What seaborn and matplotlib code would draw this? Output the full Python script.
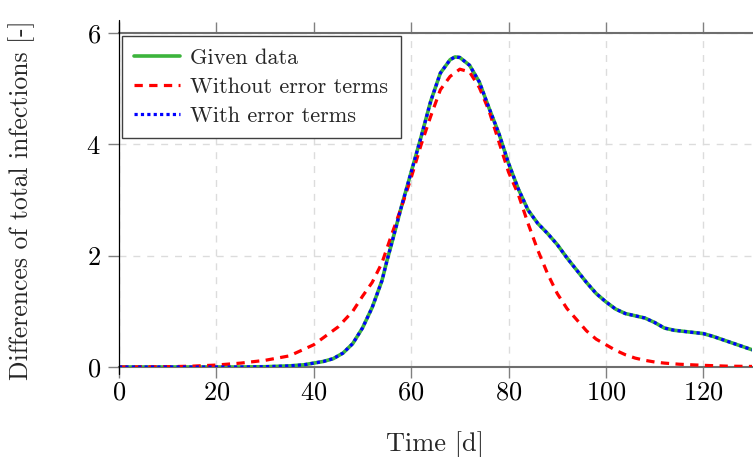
import numpy as np
import pandas as pd
import matplotlib
matplotlib.use("Agg")
import matplotlib.pyplot as plt
import seaborn as sns

# ---- data ----
t_given = [0, 5, 10, 15, 20, 25, 30, 35, 38, 40, 42, 44, 46, 48, 50, 52, 54, 55, 56, 58,
           60, 62, 64, 66, 68, 69, 70, 72, 74, 76, 78, 80, 82, 84, 86, 88, 90, 92, 94,
           96, 98, 100, 102, 104, 106, 108, 110, 112, 114, 116, 118, 120, 122, 124,
           126, 128, 130]
v_given = [0, 0, 0, 0, 0, 0, 0.005, 0.02, 0.04, 0.07, 0.1, 0.15, 0.25, 0.42, 0.7, 1.07,
           1.55, 1.9, 2.22, 2.88, 3.5, 4.12, 4.77, 5.28, 5.52, 5.57, 5.56, 5.42, 5.12,
           4.65, 4.2, 3.66, 3.2, 2.82, 2.58, 2.4, 2.2, 1.96, 1.74, 1.52, 1.32, 1.17,
           1.04, 0.96, 0.92, 0.88, 0.8, 0.7, 0.66, 0.64, 0.62, 0.6, 0.55, 0.49, 0.43,
           0.37, 0.31]
v_with = list(v_given)

t_without = [0, 5, 10, 15, 20, 25, 30, 35, 40, 45, 48, 50, 52, 54, 56, 58, 60, 62, 64,
             66, 68, 70, 72, 74, 76, 78, 80, 82, 84, 86, 88, 90, 92, 94, 96, 98, 100,
             102, 104, 106, 108, 110, 112, 115, 120, 125, 130]
v_without = [0, 0.002, 0.005, 0.015, 0.035, 0.07, 0.12, 0.2, 0.4, 0.72, 1.0, 1.27, 1.52,
             1.87, 2.38, 2.87, 3.4, 3.98, 4.5, 4.98, 5.22, 5.35, 5.3, 5.02, 4.6, 4.05,
             3.5, 3.1, 2.58, 2.1, 1.68, 1.32, 1.05, 0.85, 0.65, 0.5, 0.4, 0.3, 0.22,
             0.16, 0.12, 0.09, 0.07, 0.05, 0.03, 0.015, 0.01]

labels = ["Given data", "Without error terms", "With error terms"]
x_ticks = [0, 20, 40, 60, 80, 100, 120]
y_ticks = [0, 2, 4, 6]

df_given = pd.DataFrame({"t": t_given, "v": v_given})
df_with = pd.DataFrame({"t": t_given, "v": v_with})
df_without = pd.DataFrame({"t": t_without, "v": v_without})

sns.set_theme(style="white")
plt.rcParams["font.family"] = ["cmr10", "DejaVu Serif"]
plt.rcParams["axes.formatter.use_mathtext"] = True
plt.rcParams["mathtext.fontset"] = "cm"

fig = plt.figure(figsize=(7.53, 4.57), dpi=100)
ax = fig.add_axes([119 / 753, (457 - 367) / 457, (752 - 119) / 753, (367 - 33) / 457])

sns.lineplot(data=df_given, x="t", y="v", ax=ax, color="#3cb43c", lw=2.6,
             label=labels[0], zorder=3)
sns.lineplot(data=df_without, x="t", y="v", ax=ax, color="#ff0000", lw=2.3,
             label=labels[1], zorder=4)
ax.lines[-1].set_dashes((2.6, 2.0))
sns.lineplot(data=df_with, x="t", y="v", ax=ax, color="#0000ff", lw=2.3,
             label=labels[2], zorder=5)
ax.lines[-1].set_dashes((1.0, 1.0))

ax.set_xlim(0, 130)
ax.set_ylim(0, 6)
ax.set_xticks(x_ticks)
ax.set_yticks(y_ticks)
ax.tick_params(axis="both", which="both", direction="out", length=8, width=1,
               color="#808080", labelsize=19, labelcolor="black")
ax.tick_params(axis="x", top=True, bottom=True, pad=2)
ax.tick_params(axis="y", left=True, right=False, pad=5)

ax.grid(True, color="#dcdcdc", lw=1.0, linestyle=(0, (5, 5)))
ax.set_axisbelow(True)

for s in ["top", "bottom"]:
    ax.spines[s].set_visible(True)
    ax.spines[s].set_color("#6e6e6e")
    ax.spines[s].set_linewidth(1.5)
ax.spines["right"].set_visible(False)
ax.spines["left"].set_visible(False)
ax.plot([0, 0], [-0.02, 1.04], transform=ax.transAxes, color="black", lw=0.9,
        clip_on=False, zorder=6)

ax.set_xlabel("Time [d]", fontsize=19, labelpad=19)
ax.set_ylabel("Differences of total infections [-]", fontsize=18.5, labelpad=37)

leg = ax.legend(loc="upper left", bbox_to_anchor=(0.004, 0.99), borderaxespad=0,
                fontsize=16, frameon=True, fancybox=False, framealpha=1,
                edgecolor="#404040", handlelength=2.1, handletextpad=0.45,
                labelspacing=0.42, borderpad=0.55)
leg.get_frame().set_linewidth(1.0)

fig.savefig("out.png", dpi=100)
